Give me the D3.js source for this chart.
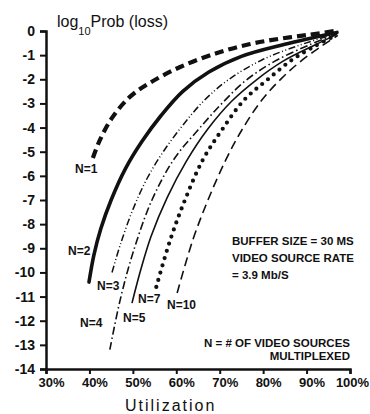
<!DOCTYPE html>
<html>
<head>
<meta charset="utf-8">
<script src="https://cdn.jsdelivr.net/npm/d3@7"></script>
<style>
  html, body { margin: 0; padding: 0; background: #fff; }
  svg { display: block; }
  text { fill: #111; font-family: "Liberation Sans", "DejaVu Sans", sans-serif; }
</style>
</head>
<body>
<svg id="chart" width="370" height="414"></svg>
<script>
// Loss probability (log10) versus link utilization, one curve per number of multiplexed sources
const xTicks = [30, 40, 50, 60, 70, 80, 90, 100];
const yTicks = [0, -1, -2, -3, -4, -5, -6, -7, -8, -9, -10, -11, -12, -13, -14];

const n1  = [[40.8,-5.26],[42.4,-4.52],[45.2,-3.6],[49.3,-2.73],[53.9,-2.15],[60.9,-1.49],[69.4,-0.91],[77.0,-0.54],[83.9,-0.32],[90.8,-0.15],[97.2,0.02]];
const n2  = [[39.9,-10.4],[41.0,-9.3],[42.6,-8.2],[45.0,-7.0],[48.3,-5.7],[52.0,-4.6],[56.5,-3.5],[61.5,-2.5],[67.5,-1.7],[75.0,-1.05],[85.0,-0.55],[97.0,-0.06]];
const n3  = [[45.2,-10.0],[47.2,-8.8],[50.0,-7.4],[53.3,-6.1],[57.0,-5.0],[61.3,-3.95],[66.3,-2.9],[71.9,-2.03],[79.7,-1.2],[88.5,-0.58],[97.0,-0.1]];
const n4  = [[44.7,-13.2],[47.0,-11.2],[50.0,-9.2],[54.4,-7.0],[59.5,-5.3],[65.0,-4.1],[70.5,-3.0],[76.0,-2.05],[82.7,-1.25],[90.3,-0.6],[97.0,-0.12]];
const n5  = [[49.8,-11.27],[51.8,-9.9],[54.2,-8.5],[57.9,-6.9],[62.3,-5.4],[67.3,-4.05],[72.8,-2.9],[78.4,-2.03],[84.6,-1.25],[91.7,-0.6],[97.0,-0.14]];
const n7  = [[55.4,-10.6],[58.6,-8.66],[62.0,-7.0],[66.1,-5.34],[70.5,-4.1],[75.6,-2.86],[80.9,-2.03],[86.6,-1.2],[92.0,-0.62],[97.0,-0.16]];
const n10 = [[60.2,-10.85],[63.8,-8.66],[67.3,-7.0],[71.4,-5.34],[75.1,-4.1],[79.7,-2.86],[84.3,-1.95],[88.9,-1.22],[93.5,-0.62],[97.2,-0.18]];

const curveLabels = [
  { text: "N=1",  x: 75,  y: 173 },
  { text: "N=2",  x: 68,  y: 255 },
  { text: "N=3",  x: 97,  y: 290 },
  { text: "N=4",  x: 80,  y: 327 },
  { text: "N=5",  x: 123, y: 322 },
  { text: "N=7",  x: 138, y: 303 },
  { text: "N=10", x: 167, y: 309 }
];

const svg = d3.select("#chart");

const x = d3.scaleLinear().domain([30, 100]).range([46, 350]);
const y = d3.scaleLinear().domain([0, -14]).range([31, 369]);

// axes
const yAxis = d3.axisLeft(y).tickValues(yTicks).tickSize(6).tickPadding(3)
  .tickFormat(d => d === 0 ? "0" : "-" + Math.abs(d));
const gy = svg.append("g").attr("transform", "translate(46,0)").call(yAxis);
gy.select(".domain").attr("stroke", "#111").attr("stroke-width", 2.5);
gy.selectAll(".tick line").attr("stroke", "#111").attr("stroke-width", 2);
gy.selectAll(".tick text").attr("font-size", 14).attr("font-weight", "bold").attr("dx", -2);

const xAxis = d3.axisBottom(x).tickValues(xTicks).tickSize(5).tickPadding(4)
  .tickFormat(d => d + "%");
const gx = svg.append("g").attr("transform", "translate(0,369)").call(xAxis);
gx.select(".domain").attr("stroke", "#111").attr("stroke-width", 2.5);
gx.selectAll(".tick line").attr("stroke", "#111").attr("stroke-width", 2);
gx.selectAll(".tick text").attr("font-size", 13).attr("font-weight", "bold")
  .attr("dx", d => d === 100 ? 2 : 5);

// curves
const line = d3.line().x(d => x(d[0])).y(d => y(d[1])).curve(d3.curveCatmullRom.alpha(0.5));

const series = [
  { data: n1,  width: 4.2, dash: "9,5",  cap: "butt" },
  { data: n2,  width: 3.6, dash: null,   cap: "round" },
  { data: n3,  width: 1.5, dash: "7,2.5,1,2.5,1,2.5", cap: "butt" },
  { data: n4,  width: 1.6, dash: "8,3,1.5,3", cap: "butt" },
  { data: n5,  width: 1.6, dash: null,   cap: "butt" },
  { data: n7,  width: 4.2, dash: "0,7.5", cap: "round" },
  { data: n10, width: 1.6, dash: "9,5",  cap: "butt" }
];

svg.append("g").selectAll("path").data(series).join("path")
  .attr("d", s => line(s.data))
  .attr("fill", "none")
  .attr("stroke", "#111")
  .attr("stroke-width", s => s.width)
  .attr("stroke-linecap", s => s.cap)
  .attr("stroke-dasharray", s => s.dash);

// curve labels
svg.append("g").selectAll("text").data(curveLabels).join("text")
  .attr("x", d => d.x).attr("y", d => d.y)
  .attr("font-size", 12).attr("font-weight", "bold")
  .text(d => d.text);

// axis titles
const title = svg.append("text").attr("x", 57).attr("y", 27).attr("font-size", 16);
title.append("tspan").text("log");
title.append("tspan").attr("font-size", 11).attr("dy", 8).text("10");
title.append("tspan").attr("dy", -8).text("Prob (loss)");

svg.append("text").attr("x", 125).attr("y", 411).attr("font-size", 16)
  .attr("letter-spacing", 2).text("Utilization");

// annotations
const notes = svg.append("g").attr("font-size", 11.5).attr("font-weight", "bold");
notes.append("text").attr("x", 232).attr("y", 245).text("BUFFER SIZE = 30 MS");
notes.append("text").attr("x", 232).attr("y", 262).text("VIDEO SOURCE RATE");
notes.append("text").attr("x", 232).attr("y", 279).text("= 3.9 Mb/S");
notes.append("text").attr("x", 350).attr("y", 347).attr("text-anchor", "end").text("N = # OF VIDEO SOURCES");
notes.append("text").attr("x", 350).attr("y", 360).attr("text-anchor", "end").text("MULTIPLEXED");
</script>
</body>
</html>
